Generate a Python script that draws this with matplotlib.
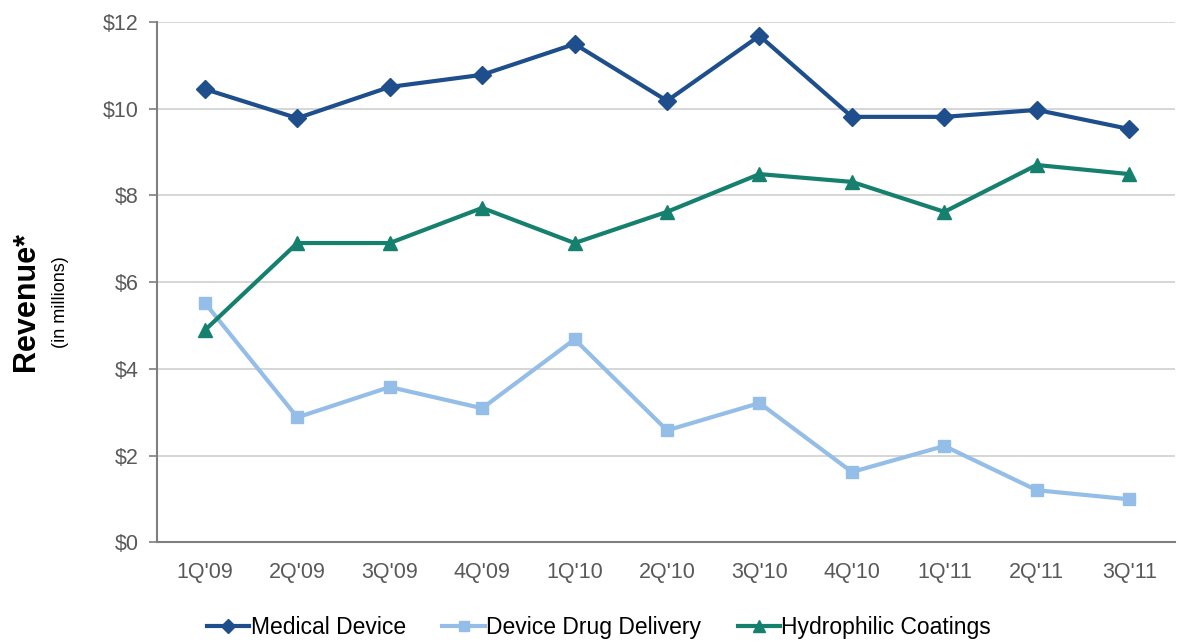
import matplotlib
matplotlib.use("Agg")
import matplotlib.pyplot as plt
from matplotlib.ticker import FuncFormatter

plt.rcParams['font.family'] = ['Liberation Sans', 'DejaVu Sans']

quarters = ["1Q'09", "2Q'09", "3Q'09", "4Q'09", "1Q'10", "2Q'10",
            "3Q'10", "4Q'10", "1Q'11", "2Q'11", "3Q'11"]
medical_device = [10.45, 9.78, 10.5, 10.78, 11.49, 10.18, 11.68, 9.81, 9.81, 9.97, 9.53]
device_drug_delivery = [5.52, 2.88, 3.58, 3.09, 4.68, 2.58, 3.21, 1.62, 2.22, 1.2, 0.99]
hydrophilic_coatings = [4.89, 6.9, 6.9, 7.71, 6.9, 7.62, 8.49, 8.31, 7.62, 8.7, 8.49]
y_ticks = [0, 2, 4, 6, 8, 10, 12]

fig = plt.figure(figsize=(11.79, 6.44), dpi=100)
ax = fig.add_axes([0.133, 0.158, 0.864, 0.808])

x = list(range(len(quarters)))
ax.plot(x, medical_device, color='#1f4e8c', lw=3, marker='D', ms=9,
        label='Medical Device', zorder=3)
ax.plot(x, device_drug_delivery, color='#94bde8', lw=3, marker='s', ms=9,
        label='Device Drug Delivery', zorder=3)
ax.plot(x, hydrophilic_coatings, color='#16806e', lw=3, marker='^', ms=10,
        label='Hydrophilic Coatings', zorder=3)

ax.set_xlim(-0.52, 10.5)
ax.set_ylim(0, 12)
ax.set_yticks(y_ticks)
ax.yaxis.set_major_formatter(FuncFormatter(lambda v, p: f"${v:.0f}"))
ax.set_xticks(x)
ax.set_xticklabels(quarters)
ax.grid(axis='y', color='#d0d0d0', lw=1.2, zorder=0)
ax.set_axisbelow(True)

for s in ['top', 'right']:
    ax.spines[s].set_visible(False)
for s in ['left', 'bottom']:
    ax.spines[s].set_color('#7f7f7f')
    ax.spines[s].set_linewidth(1.5)
ax.tick_params(axis='y', length=6, color='#7f7f7f', width=1.2,
               labelsize=15.5, labelcolor='#595959', pad=7)
ax.tick_params(axis='x', length=0, labelsize=15.5, labelcolor='#595959', pad=14)

fig.text(0.022, 0.531, 'Revenue*', rotation=90, fontsize=22, fontweight='bold',
         ha='center', va='center')
fig.text(0.051, 0.531, '(in millions)', rotation=90, fontsize=13,
         ha='center', va='center')

leg = fig.legend(loc='center', bbox_to_anchor=(0.508, 0.025), ncol=3, frameon=False,
                 fontsize=16.5, handlelength=1.85, handletextpad=0.05, columnspacing=1.6,
                 markerscale=0.8)

fig.savefig('out.png', dpi=100)
